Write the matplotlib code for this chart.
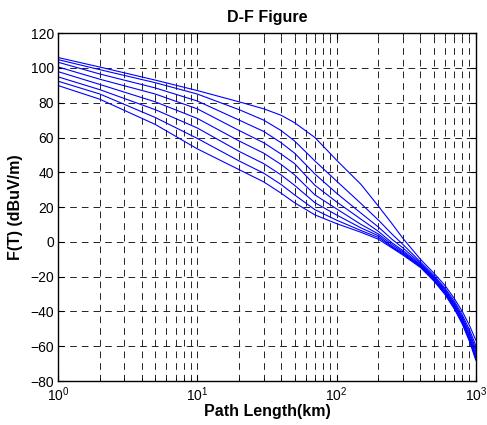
import math
import matplotlib
matplotlib.use('Agg')
import matplotlib.pyplot as plt
from matplotlib.ticker import FixedLocator, FuncFormatter, NullFormatter

plt.rcParams['font.family'] = ['Liberation Sans', 'DejaVu Sans']
plt.rcParams['mathtext.fontset'] = 'custom'
plt.rcParams['mathtext.rm'] = 'Liberation Sans'
plt.rcParams['mathtext.it'] = 'Liberation Sans'
plt.rcParams['mathtext.default'] = 'regular'

# distances (km)
dist = [1, 2, 5, 10, 20, 30, 40, 50, 70, 100, 150, 200, 250, 300, 400,
        500, 600, 700, 800, 900, 1000]

# field strength curves F(T) in dBuV/m
c1 = [106.0, 100.5, 93.0, 87.0, 80.5, 76.5, 72.8, 68.5, 60.0, 47.0, 33.0,
      20.5, 10.5, 2.0, -10.0, -18.0, -25.0, -32.5, -40.0, -48.0, -56.5]
c2 = [104.8, 99.0, 91.5, 85.0, 76.0, 70.0, 64.0, 58.0, 46.5, 35.0, 22.0,
      12.5, 4.5, -1.5, -11.5, -19.3, -26.5, -34.0, -42.0, -50.5, -59.5]
c3 = [103.3, 96.5, 88.5, 81.0, 70.0, 63.5, 57.0, 51.0, 39.0, 28.0, 16.5,
      8.5, 1.5, -3.5, -12.3, -20.0, -27.3, -35.0, -43.2, -52.0, -61.5]
c4 = [100.6, 93.5, 85.0, 76.5, 64.0, 57.0, 50.5, 45.0, 32.5, 23.0, 13.0,
      6.0, -0.5, -5.0, -13.0, -20.7, -28.0, -35.8, -44.2, -53.3, -63.0]
c5 = [97.9, 90.5, 80.5, 71.0, 58.0, 51.0, 44.5, 38.5, 27.0, 19.0, 10.0,
      4.5, -1.5, -5.8, -13.5, -21.2, -28.7, -36.5, -45.0, -54.5, -64.5]
c6 = [94.9, 87.5, 76.0, 65.5, 52.0, 45.0, 38.5, 32.5, 22.5, 15.5, 8.0,
      3.5, -2.5, -6.5, -14.0, -21.7, -29.2, -37.2, -45.8, -55.5, -66.0]
c7 = [92.4, 85.0, 71.5, 59.5, 46.5, 39.5, 33.0, 27.0, 18.5, 12.5, 6.5,
      2.5, -3.0, -7.0, -14.3, -22.1, -29.7, -37.8, -46.5, -56.3, -67.0]
c8 = [89.9, 82.0, 67.5, 53.5, 41.5, 34.5, 28.0, 22.5, 15.5, 10.5, 5.5,
      1.5, -3.5, -7.6, -14.7, -22.5, -30.2, -38.5, -47.3, -57.2, -68.0]
curves = [c1, c2, c3, c4, c5, c6, c7, c8]

yticks = [-80, -60, -40, -20, 0, 20, 40, 60, 80, 100, 120]
xmajor = [1, 10, 100, 1000]

fig = plt.figure(figsize=(4.87, 4.25), dpi=100)
ax = fig.add_axes([0.119, 0.1035, 0.858, 0.8185])

for c in curves:
    ax.plot(dist, c, color='#0000ff', lw=0.8)

ax.set_xscale('log')
ax.set_xlim(1, 1000)
ax.set_ylim(-80, 120)
ax.set_yticks(yticks)
ax.xaxis.set_major_locator(FixedLocator(xmajor))
minors = [m * d for d in [1, 10, 100] for m in range(2, 10)]
ax.xaxis.set_minor_locator(FixedLocator(minors))
ax.xaxis.set_minor_formatter(NullFormatter())
ax.xaxis.set_major_formatter(FuncFormatter(
    lambda v, p: r'$10^{%d}$' % round(math.log10(v))))

dash = (0, (8, 6))
ax.grid(True, which='major', axis='both', color='k', lw=0.6, linestyle=dash)
ax.grid(True, which='minor', axis='x', color='k', lw=0.6, linestyle=dash)

ax.tick_params(which='both', direction='in', top=True, right=True,
               labelsize=10, pad=3)
ax.tick_params(which='major', length=4)
ax.tick_params(which='minor', length=2)
for s in ax.spines.values():
    s.set_linewidth(1.0)

ax.set_title('D-F Figure', fontsize=11.5, fontweight='bold', pad=8)
ax.set_xlabel('Path Length(km)', fontsize=11.5, fontweight='bold', labelpad=0)
ax.set_ylabel('F(T) (dBuV/m)', fontsize=11.5, fontweight='bold', labelpad=5)

fig.savefig('out.png', dpi=100)
